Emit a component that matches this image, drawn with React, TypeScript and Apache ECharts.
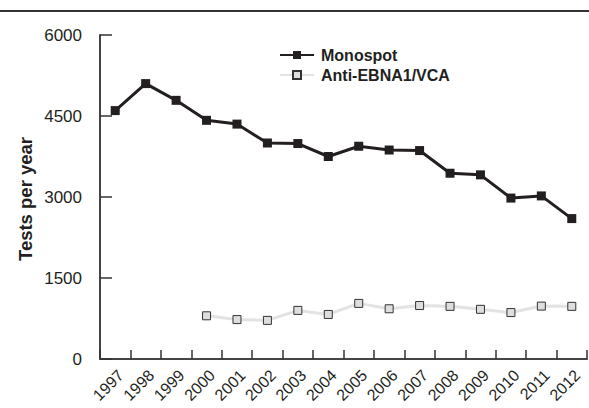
import React, { useEffect, useRef } from "react";
import * as echarts from "echarts";

const years = ["1997", "1998", "1999", "2000", "2001", "2002", "2003", "2004", "2005", "2006", "2007", "2008", "2009", "2010", "2011", "2012"];
const monospot = [4600, 5100, 4790, 4420, 4350, 4000, 3990, 3750, 3940, 3870, 3860, 3440, 3410, 2980, 3020, 2600];
const antiEbna = [null, null, null, 800, 730, 715, 900, 825, 1030, 930, 990, 975, 920, 860, 980, 975];
const yAxisTitle = "Tests per year";

const FONT = "'Liberation Sans', Arial, Helvetica, sans-serif";

export default function App() {
  const ref = useRef<HTMLDivElement>(null);
  useEffect(() => {
    document.body.style.margin = "0";
    const chart = echarts.init(ref.current!, null, { renderer: "svg" });
    chart.setOption({
      animation: false,
      backgroundColor: "#ffffff",
      textStyle: { fontFamily: FONT },
      graphic: [
        {
          type: "line",
          shape: { x1: 0, y1: 11, x2: 589, y2: 11 },
          style: { stroke: "#333333", lineWidth: 2 },
        },
        {
          type: "text",
          x: 25,
          y: 199,
          rotation: Math.PI / 2,
          style: {
            text: yAxisTitle,
            fontFamily: FONT,
            fontSize: 18.5,
            fontWeight: "bold",
            fill: "#231f20",
            align: "center",
            verticalAlign: "middle",
          },
        },
      ],
      grid: { left: 100, right: 2, top: 35, bottom: 49, containLabel: false, outerBoundsMode: "none" },
      legend: {
        orient: "vertical",
        left: 274,
        top: 42,
        itemWidth: 34,
        itemHeight: 10,
        itemGap: 4,
        data: ["Monospot", "Anti-EBNA1/VCA"],
        textStyle: { fontFamily: FONT, fontSize: 16, fontWeight: "bold", color: "#231f20", padding: [0, 0, 0, 2] },
      },
      xAxis: {
        type: "category",
        data: years,
        boundaryGap: true,
        axisLine: { lineStyle: { color: "#444444", width: 2 } },
        axisTick: { show: true, inside: true, length: 9, alignWithLabel: false, lineStyle: { color: "#333333", width: 1.5 } },
        axisLabel: { rotate: 45, fontSize: 16, color: "#231f20", margin: 8, interval: 0, verticalAlign: "top", fontFamily: FONT },
        splitLine: { show: false },
      },
      yAxis: {
        type: "value",
        min: 0,
        max: 6000,
        interval: 1500,
        axisLine: { show: true, lineStyle: { color: "#444444", width: 2 } },
        axisTick: { show: true, inside: true, length: 12, lineStyle: { color: "#333333", width: 1.5 } },
        axisLabel: { fontSize: 17, color: "#231f20", margin: 18, fontFamily: FONT, formatter: (v: number) => String(v) },
        splitLine: { show: false },
      },
      series: [
        {
          name: "Monospot",
          type: "line",
          data: monospot,
          symbol: "rect",
          symbolSize: 9,
          lineStyle: { color: "#231f20", width: 3 },
          itemStyle: { color: "#231f20", borderColor: "#231f20", borderWidth: 0 },
          z: 3,
        },
        {
          name: "Anti-EBNA1/VCA",
          type: "line",
          data: antiEbna,
          symbol: "rect",
          symbolSize: 8,
          connectNulls: false,
          lineStyle: { color: "#e3e3e3", width: 3 },
          itemStyle: { color: "#dedede", borderColor: "#333333", borderWidth: 1 },
          z: 2,
        },
      ],
    });
    return () => chart.dispose();
  }, []);
  return <div ref={ref} style={{ width: 589, height: 408, position: "absolute", left: 0, top: 0 }} />;
}
